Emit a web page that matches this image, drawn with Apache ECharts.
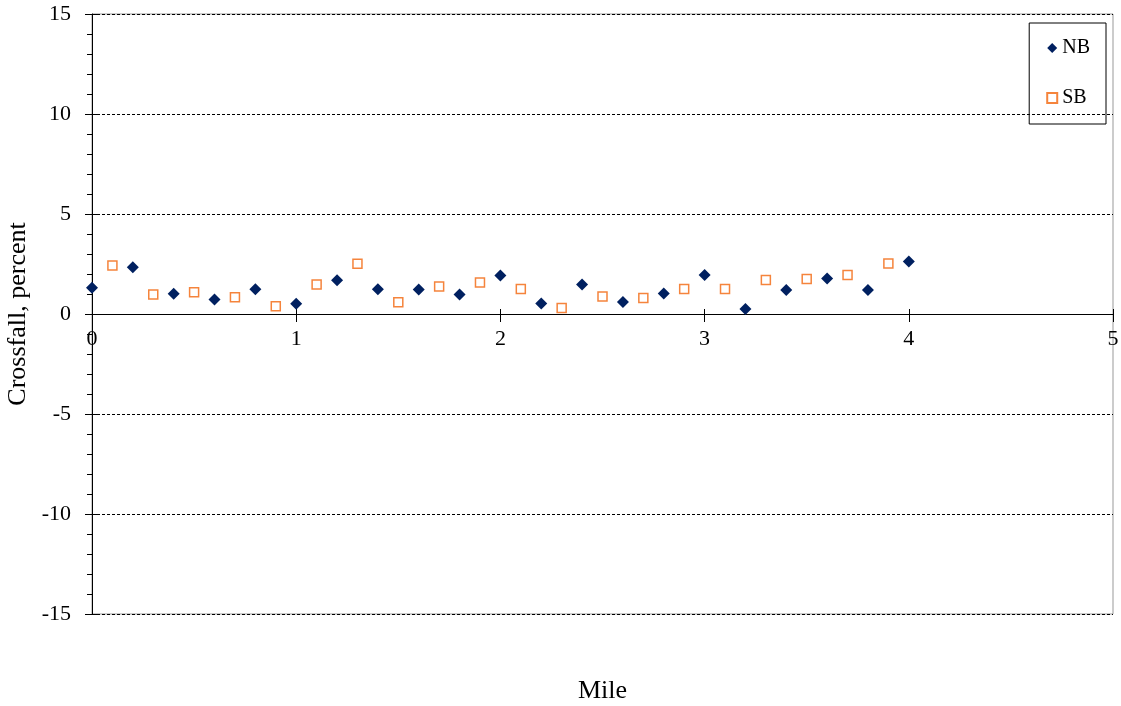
<!DOCTYPE html>
<html>
<head>
<meta charset="utf-8">
<script src="https://cdn.jsdelivr.net/npm/echarts@6/dist/echarts.min.js"></script>
<style>html,body{margin:0;padding:0;background:#fff}#c{width:1121px;height:706px}</style>
</head>
<body>
<div id="c"></div>
<script>
const nbMiles = [0,0.2,0.4,0.6,0.8,1.0,1.2,1.4,1.6,1.8,2.0,2.2,2.4,2.6,2.8,3.0,3.2,3.4,3.6,3.8,4.0];
const nbValues = [1.31,2.34,1.01,0.73,1.24,0.51,1.69,1.24,1.22,0.98,1.93,0.52,1.48,0.6,1.03,1.95,0.25,1.2,1.78,1.2,2.62];
const sbMiles = [0.1,0.3,0.5,0.7,0.9,1.1,1.3,1.5,1.7,1.9,2.1,2.3,2.5,2.7,2.9,3.1,3.3,3.5,3.7,3.9];
const sbValues = [2.43,0.97,1.09,0.84,0.39,1.48,2.51,0.59,1.37,1.57,1.25,0.3,0.87,0.8,1.25,1.25,1.7,1.75,1.95,2.53];
const xTicks = [0,1,2,3,4,5];
const yTicks = [-15,-10,-5,0,5,10,15];

const font = '"Liberation Serif","Times New Roman",serif';
const gridTop = 14, gridBottom = 92, H = 706;
const plotH = H - gridTop - gridBottom;
const yMin = yTicks[0], yMax = yTicks[yTicks.length-1];
// distance from plot bottom to the y=0 line, derived from the axis range
const zeroOffset = -plotH * (0 - yMin) / (yMax - yMin);

const chart = echarts.init(document.getElementById('c'));
chart.setOption({
  animation:false,
  backgroundColor:'#fff',
  grid:{left:92,right:8,top:gridTop,bottom:gridBottom,show:true,borderColor:'#999',borderWidth:1,
        backgroundColor:'transparent',containLabel:false,outerBoundsMode:'none'},
  legend:{
    right:15, top:23, orient:'vertical', itemGap:30, padding:[15,16,16,17],
    borderColor:'#000', borderWidth:1, itemWidth:10, itemHeight:10,
    textStyle:{fontFamily:font, fontSize:20, color:'#000'},
    data:[{name:'NB',icon:'diamond'},{name:'SB',icon:'rect'}]
  },
  xAxis:[{
    type:'value', min:xTicks[0], max:xTicks[xTicks.length-1], interval:1,
    offset:zeroOffset,
    name:'Mile', nameLocation:'middle', nameGap:64 - zeroOffset,
    nameTextStyle:{fontFamily:font, fontSize:26, color:'#000'},
    axisLine:{onZero:false, lineStyle:{color:'#000',width:1}},
    axisTick:{show:true, length:8, lineStyle:{color:'#000'}},
    axisLabel:{fontFamily:font, fontSize:22, color:'#000', margin:14},
    splitLine:{show:false}
  },{
    type:'value', min:xTicks[0], max:xTicks[xTicks.length-1], interval:1, position:'bottom',
    offset:zeroOffset,
    axisLine:{onZero:false, show:false},
    axisTick:{show:true, inside:true, length:5, lineStyle:{color:'#000'}},
    axisLabel:{show:false}, splitLine:{show:false}
  }],
  yAxis:[{
    type:'value', min:yMin, max:yMax, interval:5,
    name:'Crossfall, percent', nameLocation:'middle', nameGap:55,
    nameTextStyle:{fontFamily:font, fontSize:26, color:'#000'},
    axisLine:{show:true, onZero:false, lineStyle:{color:'#000',width:1}},
    axisTick:{show:true, length:7, lineStyle:{color:'#000'}},
    minorTick:{show:true, splitNumber:5, length:5, lineStyle:{color:'#000'}},
    axisLabel:{fontFamily:font, fontSize:22, color:'#000', margin:21},
    splitLine:{show:true, lineStyle:{color:'#000', type:[3,2], width:1}}
  },{
    type:'value', min:yMin, max:yMax, interval:5, position:'left',
    axisLine:{show:false, onZero:false},
    axisTick:{show:true, inside:true, length:6, lineStyle:{color:'#000'}},
    minorTick:{show:false},
    axisLabel:{show:false}, splitLine:{show:false}
  }],
  series:[{
    name:'NB', type:'scatter', symbol:'diamond', symbolSize:12,
    itemStyle:{color:'#002060', opacity:1},
    data:nbMiles.map((m,i)=>[m,nbValues[i]])
  },{
    name:'SB', type:'scatter', symbol:'rect', symbolSize:9,
    itemStyle:{color:'#fff', borderColor:'#F5843C', borderWidth:1.5, opacity:1},
    data:sbMiles.map((m,i)=>[m,sbValues[i]])
  }]
});
</script>
</body>
</html>
